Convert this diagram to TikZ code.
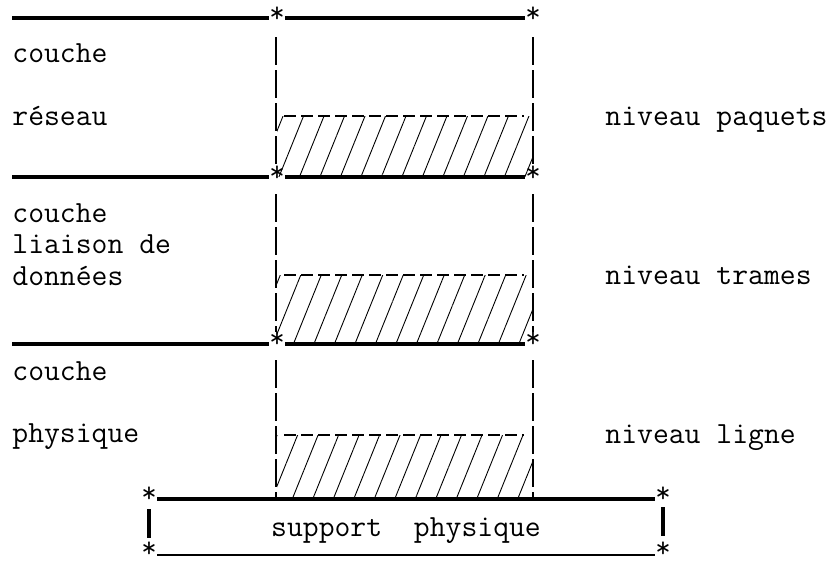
\documentclass[tikz,border=0pt]{standalone}
\usetikzlibrary{patterns.meta}

\tikzset{
    trait/.style={line width=1.8pt},
    etoile/.style={inner sep=0pt, font=\fontsize{15}{15}\ttfamily},
    colonne/.style={line width=0.8pt, dash pattern=on 14pt off 2.5pt},
    limite/.style={line width=0.8pt, dash pattern=on 6pt off 2.5pt},
    hachure/.style={pattern={Lines[angle=68, distance=9.5pt, line width=0.45pt]}},
    texte/.style={anchor=base west, inner sep=0pt}
}

\begin{document}
\begin{tikzpicture}[x=0.5pt, y=-0.5pt, font=\fontsize{15.4}{18}\ttfamily]
    \useasboundingbox (0,0) rectangle (833,563);
    % zones hachurees
    \fill[hachure] (277,116) rectangle (532,176);
    \fill[hachure] (277,275) rectangle (532,343);
    \fill[hachure] (277,435) rectangle (532,497);
    % couche reseau
    \coordinate (g1) at (12,18);
    \node[etoile] (e1g) at (277,15) {*};
    \node[etoile] (e1d) at (533,15) {*};
    \draw[trait] (g1) -- (g1 -| e1g.west);
    \draw[trait] (g1 -| e1g.east) -- (g1 -| e1d.west);
    \coordinate (v1g) at (276,37);
    \coordinate (v1d) at (533,37);
    \coordinate (b1g) at (284,116);
    \coordinate (b1d) at (524,116);
    % couche liaison
    \coordinate (g2) at (12,177);
    \node[etoile] (e2g) at (277,174) {*};
    \node[etoile] (e2d) at (533,174) {*};
    \draw[trait] (g2) -- (g2 -| e2g.west);
    \draw[trait] (g2 -| e2g.east) -- (g2 -| e2d.west);
    \draw[colonne] (v1g) -- (e2g.north -| v1g);
    \draw[colonne] (v1d) -- (e2d.north -| v1d);
    \draw[limite] (b1g) -- (b1d);
    \coordinate (v2g) at (276,194);
    \coordinate (v2d) at (533,194);
    \coordinate (b2g) at (284,275);
    \coordinate (b2d) at (524,275);
    % couche physique
    \coordinate (g3) at (12,344);
    \node[etoile] (e3g) at (277,340) {*};
    \node[etoile] (e3d) at (533,340) {*};
    \draw[trait] (g3) -- (g3 -| e3g.west);
    \draw[trait] (g3 -| e3g.east) -- (g3 -| e3d.west);
    \draw[colonne] (v2g) -- (e3g.north -| v2g);
    \draw[colonne] (v2d) -- (e3d.north -| v2d);
    \draw[limite] (b2g) -- (b2d);
    \coordinate (v3g) at (276,360);
    \coordinate (v3d) at (533,360);
    \coordinate (b3g) at (284,435);
    \coordinate (b3d) at (524,435);
    % support physique
    \node[etoile] (s1g) at (149,495) {*};
    \node[etoile] (s1d) at (663,495) {*};
    \node[etoile] (s2g) at (149,550) {*};
    \node[etoile] (s2d) at (663,550) {*};
    \coordinate (h4) at (0,499);
    \coordinate (h5) at (0,555);
    \draw[trait] (h4 -| s1g.east) -- (h4 -| s1d.west);
    \draw[line width=1.1pt] (h5 -| s2g.east) -- (h5 -| s2d.west);
    \draw[trait, shorten <=3pt, shorten >=2pt] (s1g) -- (s2g);
    \draw[trait, shorten <=2pt, shorten >=3pt] (s1d) -- (s2d);
    \draw[colonne] (v3g) -- (v3g |- h4);
    \draw[colonne] (v3d) -- (v3d |- h4);
    \draw[limite] (b3g) -- (b3d);
    % textes
    \node[texte] (t1) at (12,62) {couche};
    \node[texte] (t2) at (12,125) {réseau};
    \node[texte] (n1) at (605,125) {niveau paquets};
    \node[texte] (t3) at (12,222) {couche};
    \node[texte] (t4) at (12,253) {liaison de};
    \node[texte] (t5) at (12,285) {données};
    \node[texte] (n2) at (605,284) {niveau trames};
    \node[texte] (t6) at (12,380) {couche};
    \node[texte] (t7) at (12,442) {physique};
    \node[texte] (n3) at (605,443) {niveau ligne};
    \node[anchor=base, inner sep=0pt] (sp) at (406,536) {support\ \ physique};
\end{tikzpicture}
\end{document}
